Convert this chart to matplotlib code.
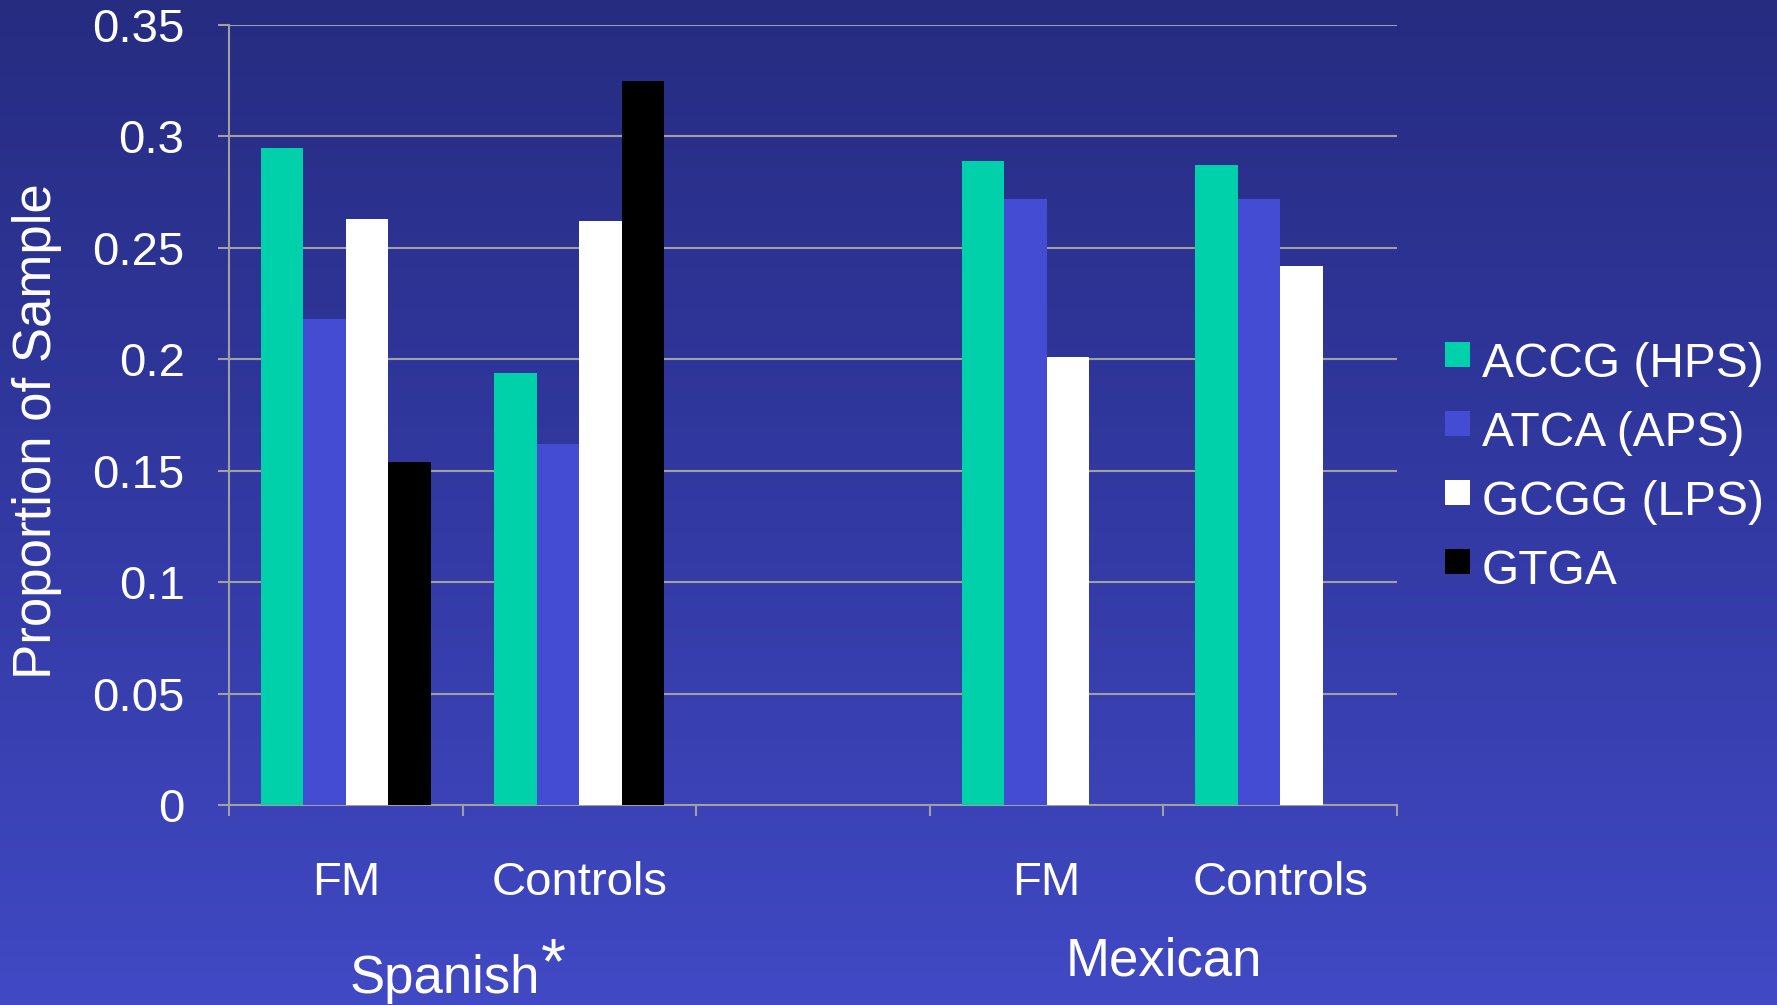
import numpy as np
import matplotlib.pyplot as plt
from matplotlib.patches import Rectangle
from matplotlib.colors import LinearSegmentedColormap
from matplotlib.transforms import blended_transform_factory

plt.rcParams['font.family'] = ['Liberation Sans', 'DejaVu Sans']

# haplotype frequencies per group (nan = not observed)
categories = ['FM', 'Controls', '', 'FM', 'Controls']
groups = ['Spanish', 'Mexican']
group_pos = [0.5, 3.5]
series = ['ACCG (HPS)', 'ATCA (APS)', 'GCGG (LPS)', 'GTGA']
accg = [0.295, 0.194, np.nan, 0.289, 0.287]
atca = [0.218, 0.162, np.nan, 0.272, 0.272]
gcgg = [0.263, 0.262, np.nan, 0.201, 0.242]
gtga = [0.154, 0.325, np.nan, np.nan, np.nan]
colors = ['#00D1AA', '#444CD3', '#FFFFFF', '#000000']
yticks = [0, 0.05, 0.1, 0.15, 0.2, 0.25, 0.3, 0.35]
yticklabels = ['0', '0.05', '0.1', '0.15', '0.2', '0.25', '0.3', '0.35']

W, H = 1777, 1005
fig = plt.figure(figsize=(W / 100, H / 100), dpi=100)

# slide-style vertical gradient background
bg = fig.add_axes([0, 0, 1, 1])
cmap = LinearSegmentedColormap.from_list('slide', ['#262C80', '#3239A2', '#4149C4'])
grad = np.linspace(0, 1, 256).reshape(-1, 1)
bg.imshow(grad, aspect='auto', cmap=cmap, extent=[0, 1, 0, 1], origin='upper')
bg.axis('off')

ax = fig.add_axes([229 / W, 1 - 805 / H, (1397 - 229) / W, 780 / H])
ax.patch.set_alpha(0)

grey = '#A0A0A0'
x = np.arange(len(categories))
width = 0.182
for i, (vals, col) in enumerate(zip([accg, atca, gcgg, gtga], colors)):
    vals = np.array(vals)
    ok = ~np.isnan(vals)
    ax.bar(x[ok] + (i - 1.5) * width, vals[ok], width, color=col, linewidth=0, zorder=3)

ax.set_xlim(-0.5, len(categories) - 0.5)
ax.set_ylim(0, 0.35)
ax.set_yticks(yticks)
ax.set_yticklabels(yticklabels)
ax.set_xticks(np.arange(-0.5, len(categories), 1))
ax.set_xticklabels([])
ax.yaxis.grid(True, color=grey, linewidth=1.5)
ax.set_axisbelow(True)
for s in ['top', 'right']:
    ax.spines[s].set_visible(False)
for s in ['left', 'bottom']:
    ax.spines[s].set_color(grey)
    ax.spines[s].set_linewidth(1.5)
ax.tick_params(axis='y', length=8, width=1.5, color=grey, pad=24,
               labelsize=34, labelcolor='white')
ax.tick_params(axis='x', length=8, width=1.5, color=grey)

# category and group labels under the axis
tr = blended_transform_factory(ax.transData, fig.transFigure)
for xi, lab in zip(x, categories):
    ax.text(xi, 1 - 895 / H, lab, transform=tr, ha='center', va='baseline',
            fontsize=34, color='white')
ax.text(group_pos[0] - 0.075, 1 - 993 / H, groups[0], transform=tr, ha='center',
        va='baseline', fontsize=38, color='white')
fig.text(541 / W, 1 - 936 / H, '*', ha='left', va='top', fontsize=46, color='white')
ax.text(group_pos[1], 1 - 975 / H, groups[1], transform=tr, ha='center',
        va='baseline', fontsize=38, color='white')

fig.text(37 / W, 1 - 431 / H, 'Proportion of Sample', rotation=90,
         ha='center', va='center', fontsize=38, color='white')

# legend
for i, (lab, col) in enumerate(zip(series, colors)):
    cy = 354.5 + 69 * i
    fig.add_artist(Rectangle((1445 / W, 1 - (cy + 12.5) / H), 25 / W, 25 / H,
                             transform=fig.transFigure, facecolor=col, edgecolor='none'))
    fig.text(1482 / W, 1 - (cy + 22.5) / H, lab, ha='left', va='baseline',
             fontsize=34.5, color='white')

fig.savefig('out.png', dpi=100)
